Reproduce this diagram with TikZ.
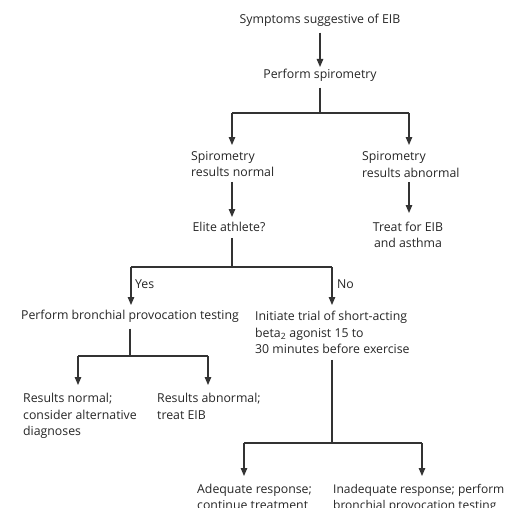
\documentclass[tikz,border=0pt]{standalone}
\usepackage{fontspec}
\setmainfont{Open Sans}
\usetikzlibrary{arrows.meta}
\begin{document}
\begin{tikzpicture}[x=1pt,y=-1pt,
  txt/.style={inner sep=0pt,font=\fontsize{12.3}{16.5}\selectfont,text=black!85},
  ln/.style={draw=black!80,line width=1.2pt},
  arr/.style={ln,-{Triangle[length=8pt,width=6.5pt]}}]
\useasboundingbox[fill=white] (0,0) rectangle (508,508);
% nodes (base anchor = baseline of the last line)
\node[txt,anchor=base] (symp) at (320,23.5) {Symptoms suggestive of EIB};
\node[txt,anchor=base] (spiro) at (320,78.5) {Perform spirometry};
\node[txt,anchor=base west,align=left] (norm) at (191,176.5) {Spirometry\\results normal};
\node[txt,anchor=base west,align=left] (abn) at (362,177) {Spirometry\\results abnormal};
\node[txt,anchor=base] (elite) at (229,231.5) {Elite athlete?};
\node[txt,anchor=base,align=center] (treat) at (408,247.5) {Treat for EIB\\and asthma};
\node[txt,anchor=base west] (yes) at (135,288.5) {Yes};
\node[txt,anchor=base west] (no) at (337,288.5) {No};
\node[txt,anchor=base] (bpt) at (130,319.5) {Perform bronchial provocation testing};
\node[txt,anchor=base west,align=left] (trial) at (255,353.5) {Initiate trial of short-acting\\beta\textsubscript{2} agonist 15 to\\30 minutes before exercise};
\node[txt,anchor=base west,align=left] (rnorm) at (23,435.5) {Results normal;\\consider alternative\\diagnoses};
\node[txt,anchor=base west,align=left] (rabn) at (157,419) {Results abnormal;\\treat EIB};
\node[txt,anchor=base west,align=left] (adeq) at (197,509.5) {Adequate response;\\continue treatment};
\node[txt,anchor=base west,align=left,font=\fontsize{12}{16.5}\selectfont] (inadeq) at (333,509.5) {Inadequate response; perform\\bronchial provocation testing};
% junctions and arrow tips
\coordinate (j1) at (320,113);
\coordinate (j1l) at (232,113);
\coordinate (j1r) at (409,113);
\coordinate (t-spiro) at (320,67);
\coordinate (t-norm) at (232,145);
\coordinate (t-abn) at (409,145);
\coordinate (t-elite) at (232,217);
\coordinate (t-treat) at (409,213);
\coordinate (j2) at (232,267);
\coordinate (j2l) at (131,267);
\coordinate (j2r) at (332,267);
\coordinate (t-bpt) at (131,305);
\coordinate (t-trial) at (332,305);
\coordinate (j3) at (130,356);
\coordinate (j3l) at (78,356);
\coordinate (j3r) at (208,356);
\coordinate (t-rnorm) at (78,385);
\coordinate (t-rabn) at (208,385);
\coordinate (j4) at (332,443);
\coordinate (j4l) at (244,443);
\coordinate (j4r) at (422,443);
\coordinate (t-adeq) at (244,476);
\coordinate (t-inadeq) at (422,476);
% connectors
\draw[arr] (symp.south) ++(0,6) -- (t-spiro);
\draw[ln] (spiro.south) ++(0,6) -- (j1);
\draw[ln] (j1l) -- (j1r);
\draw[arr] (j1l) -- (t-norm);
\draw[arr] (j1r) -- (t-abn);
\draw[arr] (norm.south -| t-elite) ++(0,5) -- (t-elite);
\draw[arr] (abn.south -| t-treat) ++(0,5) -- (t-treat);
\draw[ln] (elite.south -| j2) ++(0,6) -- (j2);
\draw[ln] (j2l) -- (j2r);
\draw[arr] (j2l) -- (t-bpt);
\draw[arr] (j2r) -- (t-trial);
\draw[ln] (bpt.south -| j3) ++(0,6) -- (j3);
\draw[ln] (j3l) -- (j3r);
\draw[arr] (j3l) -- (t-rnorm);
\draw[arr] (j3r) -- (t-rabn);
\draw[ln] (trial.south -| j4) ++(0,6) -- (j4);
\draw[ln] (j4l) -- (j4r);
\draw[arr] (j4l) -- (t-adeq);
\draw[arr] (j4r) -- (t-inadeq);
\end{tikzpicture}
\end{document}
